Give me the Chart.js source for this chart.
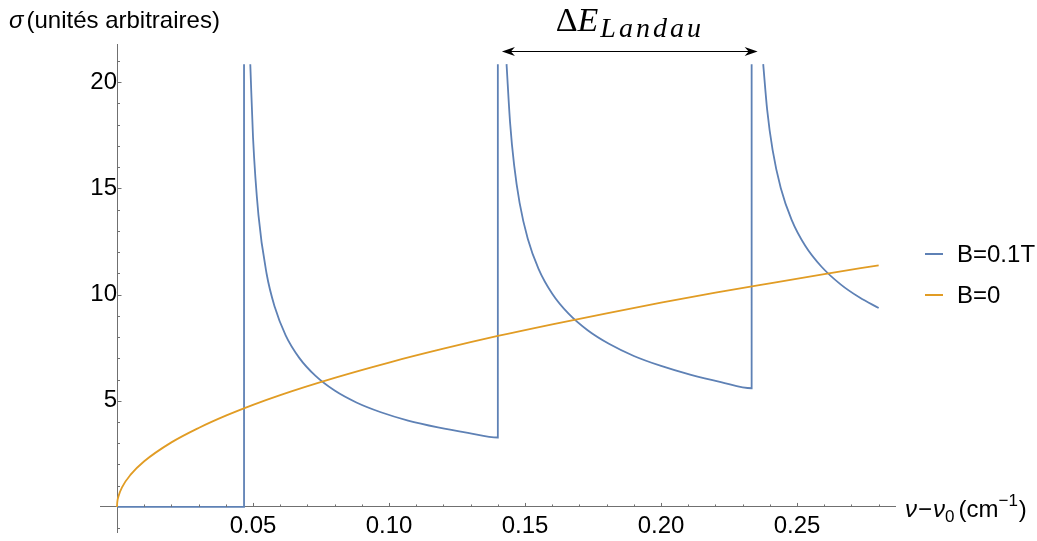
<!DOCTYPE html>
<html>
<head>
<meta charset="utf-8">
<script src="https://cdn.jsdelivr.net/npm/chart.js@4/dist/chart.umd.min.js"></script>
<style>
  html, body { margin: 0; padding: 0; background: #fff; }
  canvas { display: block; }
</style>
</head>
<body>
<canvas id="grafico" width="1037" height="541"></canvas>
<script>
// series (null = curve leaves the plot range)
var blueLabel = "B=0.1T";
var orangeLabel = "B=0";

var blueX = [0, 0.0467, 0.0467, null, 0.0490, 0.050, 0.052, 0.055, 0.058, 0.062, 0.067, 0.073, 0.080, 0.088, 0.097, 0.107, 0.118, 0.129, 0.1400,
             0.1400, null, 0.1432, 0.1445, 0.146, 0.148, 0.151, 0.155, 0.160, 0.166, 0.173, 0.181, 0.190, 0.200, 0.211, 0.222, 0.2333,
             0.2333, null, 0.23755, 0.239, 0.241, 0.244, 0.248, 0.253, 0.259, 0.266, 0.273, 0.280];
var blueY = [0, 0, 20.85, null, 20.85, 17.41, 13.74, 10.98, 9.41, 8.08, 7.02, 6.17, 5.48, 4.92, 4.46, 4.07, 3.75, 3.49, 3.27,
             20.85, null, 20.85, 18.10, 16.08, 14.32, 12.63, 11.20, 10.04, 9.10, 8.32, 7.67, 7.11, 6.64, 6.22, 5.88, 5.59,
             20.85, null, 20.85, 18.71, 16.81, 15.02, 13.52, 12.30, 11.31, 10.48, 9.86, 9.37];

var orangeX = [0, 0.0001, 0.0005, 0.002, 0.005, 0.01, 0.02, 0.03, 0.04, 0.05, 0.06, 0.08, 0.10, 0.12, 0.14, 0.16, 0.18, 0.20, 0.22, 0.24, 0.26, 0.28];
var orangeY = [0, 0.22, 0.48, 0.96, 1.52, 2.15, 3.04, 3.72, 4.30, 4.81, 5.27, 6.08, 6.80, 7.45, 8.05, 8.60, 9.12, 9.62, 10.09, 10.53, 10.96, 11.38];

var xTickValues = [0.05, 0.10, 0.15, 0.20, 0.25];
var xTickLabels = ["0.05", "0.10", "0.15", "0.20", "0.25"];
var yTickValues = [5, 10, 15, 20];
var yTickLabels = ["5", "10", "15", "20"];

var bleu = "#5e81b5";
var orange = "#e19c24";
var gris = "#707070";
var police = '"Liberation Sans", Arial, sans-serif';
var serif = '"Liberation Serif", "DejaVu Serif", serif';
var taille = 24;

function pontos(xs, ys) {
  var out = [];
  for (var i = 0; i < xs.length; i++) out.push({ x: xs[i], y: ys[i] });
  return out;
}

// flèche ΔE_Landau, en coordonnées des données
var flecheDe = 0.1415, flecheA = 0.2355, flecheY = 21.45;

var decor = {
  id: "decor",
  afterDraw: function(chart) {
    var ctx = chart.ctx;
    var xs = chart.scales.x, ys = chart.scales.y;
    var x0 = xs.getPixelForValue(0), y0 = ys.getPixelForValue(0);
    var i, p, len;
    var f = taille + "px " + police, fi = "italic " + taille + "px " + police, fs = "17px " + police;

    // graduations vers l'intérieur
    ctx.save();
    ctx.strokeStyle = gris;
    ctx.lineWidth = 1;
    ctx.beginPath();
    for (i = 1; i <= 28; i++) {
      p = Math.round(xs.getPixelForValue(i / 100)) + 0.5;
      len = i % 5 === 0 ? 4 : 2.5;
      ctx.moveTo(p, y0); ctx.lineTo(p, y0 - len);
    }
    for (i = -1; i <= 21; i++) {
      if (i === 0) continue;
      p = Math.round(ys.getPixelForValue(i)) + 0.5;
      len = i % 5 === 0 ? 4.5 : 3;
      ctx.moveTo(x0, p); ctx.lineTo(x0 + len, p);
    }
    ctx.stroke();

    // titre axe y
    ctx.fillStyle = "#000";
    ctx.textBaseline = "alphabetic";
    ctx.textAlign = "left";
    ctx.font = fi;
    ctx.fillText("σ", 9, 28);
    var w = ctx.measureText("σ").width;
    ctx.font = f;
    ctx.fillText("(unités arbitraires)", 9 + w + 3, 28);

    // titre axe x
    var tx = 905, ty = 517;
    ctx.font = fi;
    ctx.fillText("ν", tx, ty); tx += ctx.measureText("ν").width + 1;
    ctx.font = f;
    ctx.fillText("−", tx, ty); tx += ctx.measureText("−").width + 1;
    ctx.font = fi;
    ctx.fillText("ν", tx, ty); tx += ctx.measureText("ν").width;
    ctx.font = fs;
    ctx.fillText("0", tx, ty + 5); tx += ctx.measureText("0").width + 4;
    ctx.font = f;
    ctx.fillText("(cm", tx, ty); tx += ctx.measureText("(cm").width;
    ctx.font = fs;
    ctx.fillText("−1", tx, ty - 11); tx += ctx.measureText("−1").width + 1;
    ctx.font = f;
    ctx.fillText(")", tx, ty);

    // légende
    var ds = chart.data.datasets;
    for (i = 0; i < ds.length; i++) {
      var ly = 254 + i * 41;
      ctx.strokeStyle = ds[i].borderColor;
      ctx.lineWidth = 2;
      ctx.beginPath();
      ctx.moveTo(925, ly); ctx.lineTo(943, ly);
      ctx.stroke();
      ctx.fillStyle = "#000";
      ctx.font = f;
      ctx.textBaseline = "middle";
      ctx.fillText(ds[i].label, 957, ly + 1);
    }

    // flèche ΔE_Landau
    var ax1 = xs.getPixelForValue(flecheDe), ax2 = xs.getPixelForValue(flecheA);
    var ay = Math.round(ys.getPixelForValue(flecheY)) + 0.5;
    ctx.strokeStyle = "#000";
    ctx.fillStyle = "#000";
    ctx.lineWidth = 1.2;
    ctx.beginPath();
    ctx.moveTo(ax1 + 6, ay); ctx.lineTo(ax2 - 6, ay);
    ctx.stroke();
    ctx.beginPath();
    ctx.moveTo(ax1, ay); ctx.lineTo(ax1 + 13, ay - 4.5); ctx.lineTo(ax1 + 9, ay); ctx.lineTo(ax1 + 13, ay + 4.5); ctx.closePath();
    ctx.moveTo(ax2, ay); ctx.lineTo(ax2 - 13, ay - 4.5); ctx.lineTo(ax2 - 9, ay); ctx.lineTo(ax2 - 13, ay + 4.5); ctx.closePath();
    ctx.fill();

    ctx.textBaseline = "alphabetic";
    var cx = (ax1 + ax2) / 2;
    ctx.font = "34px " + serif;
    var wd = ctx.measureText("Δ").width;
    ctx.font = "italic 34px " + serif;
    var we = ctx.measureText("E").width + 2;
    ctx.font = "italic 28px " + serif;
    ctx.letterSpacing = "3px";
    var wl = ctx.measureText("Landau").width;
    var sx = cx - (wd + we + wl) / 2;
    ctx.fillText("Landau", sx + wd + we, 37);
    ctx.letterSpacing = "0px";
    ctx.font = "34px " + serif;
    ctx.fillText("Δ", sx, 31);
    ctx.font = "italic 34px " + serif;
    ctx.fillText("E", sx + wd, 31);
    ctx.restore();
  }
};

var contexto = document.getElementById("grafico").getContext("2d");
var grafico = new Chart(contexto, {
  type: "line",
  data: {
    datasets: [
      { label: blueLabel, data: pontos(blueX, blueY), borderColor: bleu, borderWidth: 1.8,
        pointRadius: 0, cubicInterpolationMode: "monotone", spanGaps: false, fill: false, order: 1 },
      { label: orangeLabel, data: pontos(orangeX, orangeY), borderColor: orange, borderWidth: 1.8,
        pointRadius: 0, cubicInterpolationMode: "monotone", fill: false, order: 0 }
    ]
  },
  options: {
    responsive: false,
    animation: false,
    layout: { padding: { left: 100, right: 142, top: 44, bottom: 9 } },
    plugins: { legend: { display: false }, tooltip: { enabled: false } },
    scales: {
      x: {
        type: "linear", min: -0.00625, max: 0.286, position: { y: 0 },
        grid: { display: false, drawTicks: false },
        border: { display: true, color: gris, width: 1 },
        afterBuildTicks: function(s) { s.ticks = xTickValues.map(function(v) { return { value: v }; }); },
        ticks: {
          autoSkip: false, maxRotation: 0, padding: 5, color: "#000",
          font: { family: police, size: taille },
          callback: function(v) { var k = xTickValues.indexOf(v); return k < 0 ? "" : xTickLabels[k]; }
        }
      },
      y: {
        type: "linear", min: -1.18, max: 21.8, position: { x: 0 },
        grid: { display: false, drawTicks: true, tickLength: 4 },
        border: { display: true, color: gris, width: 1 },
        afterBuildTicks: function(s) { s.ticks = yTickValues.map(function(v) { return { value: v }; }); },
        ticks: {
          autoSkip: false, padding: 0, color: "#000",
          font: { family: police, size: taille, lineHeight: 0.6 },
          callback: function(v) { var k = yTickValues.indexOf(v); return k < 0 ? "" : yTickLabels[k]; }
        }
      }
    }
  },
  plugins: [decor]
});
</script>
</body>
</html>
